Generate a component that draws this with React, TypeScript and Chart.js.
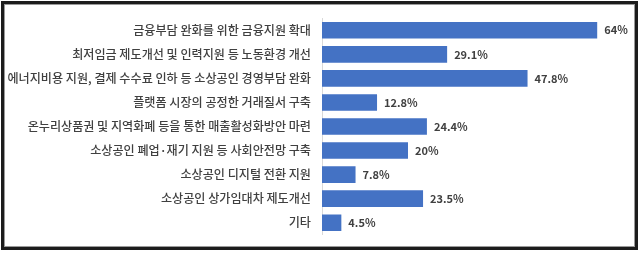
import React, { useEffect, useRef } from "react";
import { Chart, registerables } from "chart.js";

Chart.register(...registerables);

const categories: string[] = [
  "금융부담 완화를 위한 금융지원 확대",
  "최저임금 제도개선 및 인력지원 등 노동환경 개선",
  "에너지비용 지원, 결제 수수료 인하 등 소상공인 경영부담 완화",
  "플랫폼 시장의 공정한 거래질서 구축",
  "온누리상품권 및 지역화폐 등을 통한 매출활성화방안 마련",
  "소상공인 폐업·재기 지원 등 사회안전망 구축",
  "소상공인 디지털 전환 지원",
  "소상공인 상가임대차 제도개선",
  "기타",
];
const values: number[] = [64, 29.1, 47.8, 12.8, 24.4, 20, 7.8, 23.5, 4.5];
const valueLabels: string[] = ["64%", "29.1%", "47.8%", "12.8%", "24.4%", "20%", "7.8%", "23.5%", "4.5%"];

const FONT = "'Noto Sans CJK KR', 'Noto Sans', sans-serif";

const valueLabelPlugin = {
  id: "valueLabels",
  afterDatasetsDraw(chart: any) {
    const ctx = chart.ctx;
    const meta = chart.getDatasetMeta(0);
    ctx.save();
    ctx.font = `bold 11px ${FONT}`;
    ctx.fillStyle = "#404040";
    ctx.textAlign = "left";
    ctx.textBaseline = "middle";
    meta.data.forEach((bar: any, i: number) => {
      ctx.fillText(valueLabels[i], bar.x + 7, bar.y);
    });
    ctx.restore();
  },
};

export default function App() {
  const ref = useRef<HTMLCanvasElement | null>(null);
  useEffect(() => {
    if (!ref.current) return;
    const chart = new Chart(ref.current, {
      type: "bar",
      data: {
        labels: categories,
        datasets: [
          {
            data: values,
            backgroundColor: "#4472C4",
            borderWidth: 0,
            categoryPercentage: 1,
            barPercentage: 0.69,
          },
        ],
      },
      options: {
        indexAxis: "y",
        animation: false,
        responsive: false,
        maintainAspectRatio: false,
        layout: { padding: { left: 0, right: 16, top: 14, bottom: 16 } },
        plugins: {
          legend: { display: false },
          tooltip: { enabled: false },
        },
        scales: {
          x: {
            display: false,
            min: 0,
            max: 70,
          },
          y: {
            afterFit(scale: any) {
              scale.width = 322;
            },
            grid: { display: false, drawTicks: false },
            border: { display: true, color: "#d9d9d9", width: 1 },
            ticks: {
              padding: 11,
              color: "#404040",
              font: { family: FONT, size: 12.1, weight: 500 },
              autoSkip: false,
            },
          },
        },
      },
      plugins: [valueLabelPlugin],
    });
    return () => chart.destroy();
  }, []);

  return (
    <div style={{ position: "fixed", left: 0, top: 0, width: 639, height: 253, background: "#fff" }}>
      <canvas ref={ref} width={639} height={253} style={{ position: "absolute", left: 0, top: 0 }} />
      <div
        style={{
          position: "absolute",
          left: 1,
          top: 1,
          width: 631,
          height: 243,
          border: "3px solid #1c1c1c",
          boxShadow: "inset 0 0 0 1px #9a9a9a",
          pointerEvents: "none",
        }}
      />
    </div>
  );
}
